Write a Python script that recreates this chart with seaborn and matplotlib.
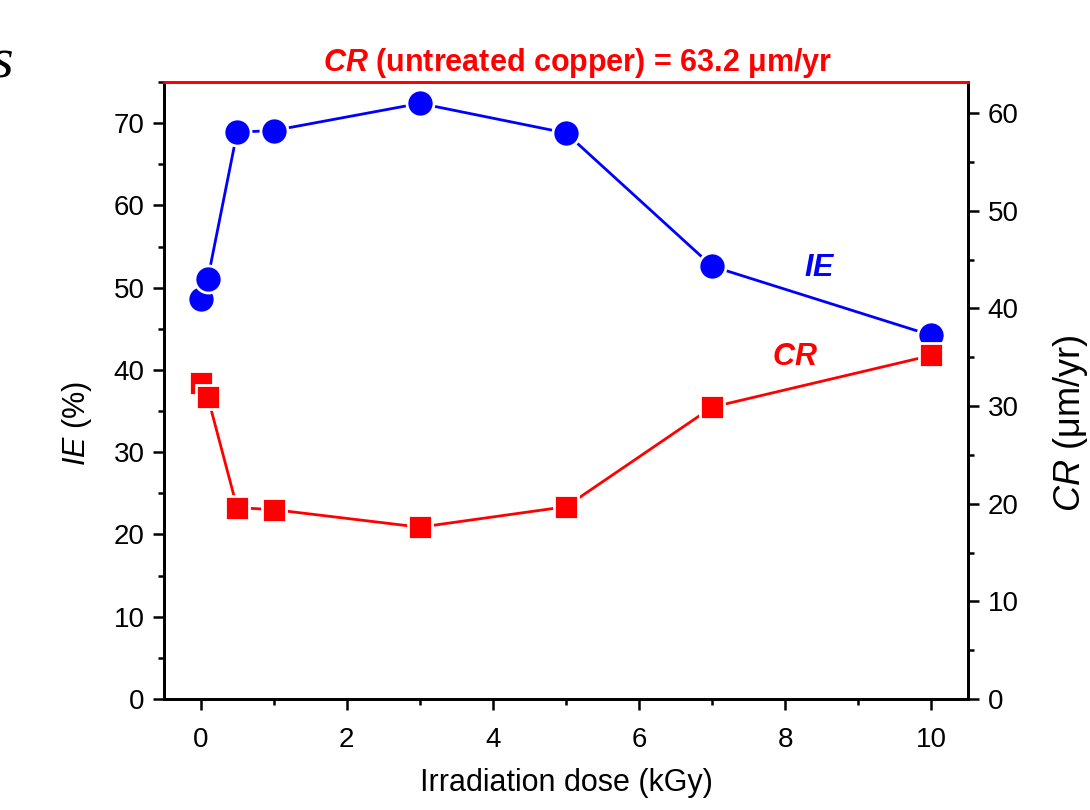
import matplotlib
matplotlib.use("Agg")
import matplotlib.pyplot as plt
import seaborn as sns
import pandas as pd
from matplotlib.ticker import MultipleLocator

# ---- data ----
dose = [0, 0.1, 0.5, 1, 3, 5, 7, 10]
ie_pct = [48.6, 51.1, 68.9, 69.1, 72.4, 68.8, 52.6, 44.2]
cr_rate = [32.4, 30.9, 19.6, 19.4, 17.6, 19.7, 29.9, 35.2]
cr_untreated = 63.2
x_ticks = [0, 2, 4, 6, 8, 10]
ie_ticks = [0, 10, 20, 30, 40, 50, 60, 70]
cr_ticks = [0, 10, 20, 30, 40, 50, 60]

df = pd.DataFrame({"dose": dose, "IE": ie_pct, "CR": cr_rate})

sns.set_theme(style="ticks", rc={"axes.labelcolor": "black", "text.color": "black",
                                 "xtick.color": "black", "ytick.color": "black",
                                 "axes.edgecolor": "black"})
plt.rcParams["font.family"] = ["Liberation Sans", "DejaVu Sans"]
plt.rcParams["mathtext.fontset"] = "custom"
plt.rcParams["mathtext.rm"] = "Liberation Sans"
plt.rcParams["mathtext.it"] = "Liberation Sans:italic"
plt.rcParams["mathtext.bf"] = "Liberation Sans:bold"
plt.rcParams["mathtext.bfit"] = "Liberation Sans:italic:bold"

fig = plt.figure(figsize=(10.9, 8.1), dpi=100)
ax = fig.add_axes([164 / 1090, 1 - 699 / 810, (968 - 164) / 1090, (699 - 82) / 810])
ax2 = ax.twinx()

blue = "#0000FF"
red = "#FF0000"

sns.lineplot(data=df, x="dose", y="IE", ax=ax, color=blue, linewidth=2.0,
             marker="o", markersize=19.5, markerfacecolor=blue,
             markeredgecolor="white", markeredgewidth=2.0, sort=False)
sns.lineplot(data=df, x="dose", y="CR", ax=ax2, color=red, linewidth=2.0,
             marker="s", markersize=17.8, markerfacecolor=red,
             markeredgecolor="white", markeredgewidth=2.0, sort=False)

ax.set_xlim(-0.5, 10.5)
ax.set_ylim(0, 75)
ax2.set_ylim(0, cr_untreated)

ax.set_xticks(x_ticks)
ax.set_yticks(ie_ticks)
ax2.set_yticks(cr_ticks)
ax.xaxis.set_minor_locator(MultipleLocator(1))
ax.yaxis.set_minor_locator(MultipleLocator(5))
ax2.yaxis.set_minor_locator(MultipleLocator(5))

for a in (ax, ax2):
    a.tick_params(which="major", direction="out", length=8, width=1.8,
                  labelsize=20, colors="black")
    a.tick_params(which="minor", direction="out", length=4.5, width=1.8)
    for s in a.spines.values():
        s.set_linewidth(2.0)
        s.set_color("black")
    a.spines["top"].set_visible(True)
    a.spines["right"].set_visible(True)
    a.spines["top"].set_color(red)
ax.tick_params(axis="x", which="major", pad=12)
ax.tick_params(axis="y", which="both", right=False)
ax.tick_params(axis="y", which="major", pad=6)
ax2.tick_params(axis="y", which="major", pad=6)
ax.tick_params(top=False)

ax.set_xlabel("Irradiation dose (kGy)", fontsize=22, labelpad=11, color="black")
ax.set_ylabel(r"$\it{IE}$ (%)", fontsize=22, va="center", color="black")
ax.yaxis.set_label_coords(-0.1076, 0.447)
ax2.set_ylabel(r"$\it{CR}$ (μm/yr)", fontsize=26, va="center", color="black")
ax2.yaxis.set_label_coords(1.128, 0.447)

ax.text(8.47, 52.4, r"$\mathbfit{IE}$", color=blue, fontsize=22,
        ha="center", va="center")
ax.text(8.13, 41.6, r"$\mathbfit{CR}$", color=red, fontsize=22,
        ha="center", va="center")

fig.text(578 / 1090, 1 - 71 / 810,
         r"$\mathbfit{CR}$ (untreated copper) = 63.2 μm/yr",
         color=red, fontsize=22, fontweight="bold", ha="center", va="baseline")

fig.text(13 / 1090, 1 - 78 / 810, "s", family="Liberation Serif",
         style="italic", fontsize=42, ha="right", va="baseline", color="black")

fig.savefig("out.png", dpi=100)
